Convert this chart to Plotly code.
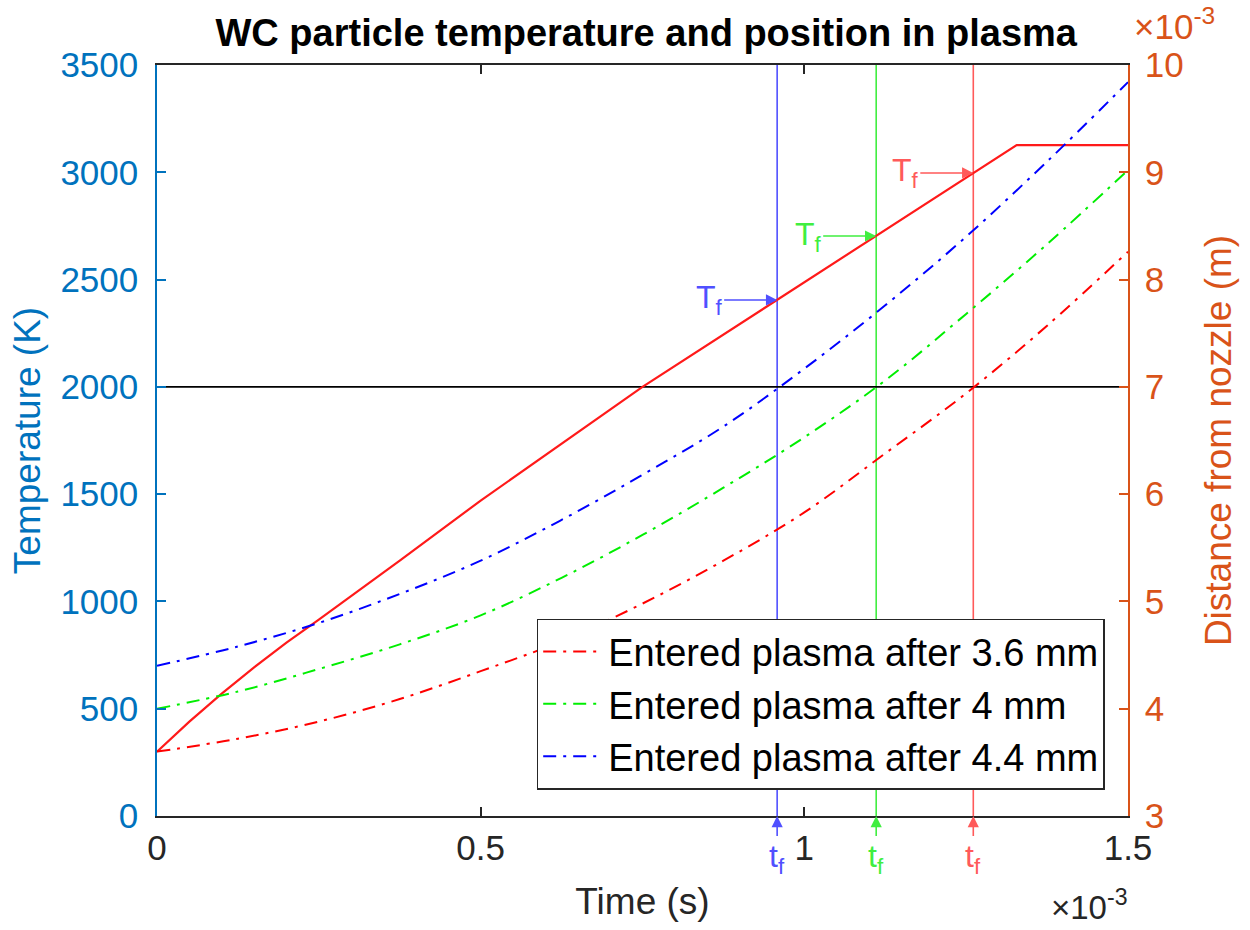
import plotly.graph_objects as go

# Time values are in units of 1e-3 s, distances in units of 1e-3 m (axis exponent x10^-3)
t_temp = [0, 0.025, 0.05, 0.1, 0.15, 0.2, 0.25, 0.375, 0.5, 0.75, 1.0, 1.25, 1.328, 1.5]
temperature = [300, 372, 440, 570, 693, 808, 915, 1190, 1470, 2000, 2487, 2975, 3127, 3127]

t_dist = [0, 0.125, 0.25, 0.375, 0.5, 0.625, 0.75, 0.875, 1.0, 1.125, 1.25, 1.375, 1.5]
dist_36 = [3.60, 3.72, 3.88, 4.09, 4.35, 4.63, 4.98, 5.38, 5.83, 6.38, 6.94, 7.57, 8.26]
dist_40 = [4.00, 4.16, 4.37, 4.60, 4.87, 5.22, 5.62, 6.06, 6.53, 7.06, 7.68, 8.33, 9.02]
dist_44 = [4.40, 4.58, 4.80, 5.07, 5.38, 5.76, 6.18, 6.63, 7.17, 7.76, 8.40, 9.10, 9.84]
series_names = ["Entered plasma after 3.6 mm", "Entered plasma after 4 mm", "Entered plasma after 4.4 mm"]

tf_times = [0.958, 1.111, 1.261]       # blue, green, red
tf_temps = [2405, 2703, 2997]
threshold_T = 2000

x_ticks = [0, 0.5, 1, 1.5]
x_ticktext = ["0", "0.5", "1", "1.5"]
yl_ticks = [0, 500, 1000, 1500, 2000, 2500, 3000, 3500]
yr_ticks = [3, 4, 5, 6, 7, 8, 9, 10]

FONT = "Liberation Sans, Arial, Helvetica, sans-serif"
LBLUE = "#0072BD"
ORANGE = "#D95319"
DARK = "#262626"
line_cols = ["#FF0000", "#00EE00", "#0000FF"]
mark_cols = ["#5050FF", "#40EE40", "#FF5A5A"]  # blue, green, red markers for tf lines
DASH = "13px,7px,3px,7px"

fig = go.Figure()

# vertical tf lines
for tcur, col in zip(tf_times, mark_cols):
    fig.add_trace(go.Scatter(x=[tcur, tcur], y=[0, 3500], mode="lines",
                             line=dict(color=col, width=1.6), showlegend=False, hoverinfo="skip"))

# threshold line
fig.add_trace(go.Scatter(x=[0, 1.5], y=[threshold_T, threshold_T], mode="lines",
                         line=dict(color="black", width=1.6), showlegend=False, hoverinfo="skip"))

# distance curves (right axis)
for d, name, col in zip([dist_36, dist_40, dist_44], series_names, line_cols):
    fig.add_trace(go.Scatter(x=t_dist, y=d, mode="lines", name=name, yaxis="y2",
                             line=dict(color=col, width=2, dash=DASH, shape="spline")))

# temperature curve
fig.add_trace(go.Scatter(x=t_temp, y=temperature, mode="lines", showlegend=False,
                         line=dict(color="#FF1A1A", width=2.2)))

# annotations
for tcur, Tcur, col in zip(tf_times, tf_temps, mark_cols):
    fig.add_annotation(x=tcur, y=Tcur, xref="x", yref="y", text="T<sub>f</sub>",
                       showarrow=True, ax=-68, ay=0, arrowhead=2, arrowsize=1.4,
                       arrowwidth=1.6, arrowcolor=col, standoff=0,
                       font=dict(family=FONT, size=32, color=col))
    fig.add_annotation(x=tcur, y=0, xref="x", yref="y", text="t<sub>f</sub>",
                       showarrow=True, ax=0, ay=42, arrowhead=2, arrowsize=1.4,
                       arrowwidth=1.6, arrowcolor=col, standoff=0,
                       font=dict(family=FONT, size=32, color=col))

fig.add_annotation(xref="paper", yref="paper", x=1.002, y=-0.088, xanchor="right", yanchor="top",
                   text="×10<sup>-3</sup>", showarrow=False,
                   font=dict(family=FONT, size=33, color=DARK))
fig.add_annotation(xref="paper", yref="paper", x=1.004, y=1.022, xanchor="left", yanchor="bottom",
                   text="×10<sup>-3</sup>", showarrow=False,
                   font=dict(family=FONT, size=35, color=ORANGE))

fig.update_layout(
    width=1250, height=930,
    margin=dict(l=157, r=122, t=65, b=114),
    paper_bgcolor="white", plot_bgcolor="white",
    font=dict(family=FONT, size=35, color=DARK),
    title=dict(text="<b>WC particle temperature and position in plasma</b>",
               x=0.517, xanchor="center", y=0.965, yanchor="middle",
               font=dict(family=FONT, size=38, color="black")),
    xaxis=dict(range=[0, 1.5], tickvals=x_ticks, ticktext=x_ticktext,
               ticks="inside", ticklen=9, tickcolor=DARK, tickwidth=1.5,
               showline=True, linecolor=DARK, linewidth=1.5, mirror="ticks",
               showgrid=False, zeroline=False,
               title=dict(text="Time (s)", standoff=22, font=dict(size=37, color=DARK)),
               tickfont=dict(size=35, color=DARK)),
    yaxis=dict(range=[0, 3500], tickvals=yl_ticks, ticks="inside", ticklen=9,
               tickcolor=LBLUE, tickwidth=1.5, showline=True, linecolor=LBLUE, linewidth=1.5,
               showgrid=False, zeroline=False, ticklabelstandoff=10,
               title=dict(text="Temperature (K)", standoff=8, font=dict(size=37, color=LBLUE)),
               tickfont=dict(size=35, color=LBLUE)),
    yaxis2=dict(range=[3, 10], tickvals=yr_ticks, overlaying="y", side="right",
                ticks="inside", ticklen=9, tickcolor=ORANGE, tickwidth=1.5,
                showline=True, linecolor=ORANGE, linewidth=1.5,
                showgrid=False, zeroline=False, ticklabelstandoff=8,
                title=dict(text="Distance from nozzle (m)", standoff=22, font=dict(size=37, color=ORANGE)),
                tickfont=dict(size=35, color=ORANGE)),
    legend=dict(x=0.976, y=0.035, xanchor="right", yanchor="bottom",
                bgcolor="white", bordercolor=DARK, borderwidth=1.5, itemwidth=60,
                font=dict(family=FONT, size=38, color="black"), tracegroupgap=0),
    showlegend=True,
)

fig.write_html("out.html")
